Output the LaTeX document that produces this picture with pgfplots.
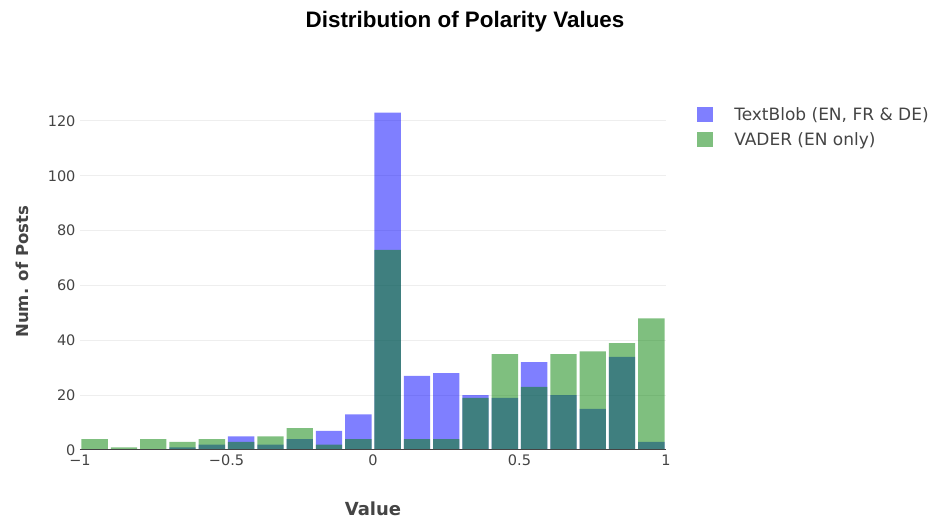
\documentclass[border=0pt]{standalone}
\usepackage{pgfplots}
\pgfplotsset{compat=1.18}
\usepackage{fontspec}
\setmainfont{DejaVu Sans}
\newfontfamily\titlefont{Liberation Sans}
\definecolor{tickgray}{HTML}{444444}
\definecolor{gridgray}{HTML}{EEEEEE}
\definecolor{tbblue}{RGB}{0,0,255}
\definecolor{vgreen}{RGB}{0,128,0}
\begin{document}
\begin{tikzpicture}
\path[use as bounding box] (-80pt,-71pt) rectangle (858pt,450pt);
\begin{axis}[
  at={(0pt,0pt)}, anchor=south west,
  scale only axis, width=586pt, height=356.5pt,
  xmin=-1, xmax=1, ymin=0, ymax=130,
  axis line style={draw=none},
  xtick={-1,-0.5,0,0.5,1},
  xticklabels={−1,−0.5,0,0.5,1},
  ytick={0,20,40,60,80,100,120},
  ymajorgrids, grid style={gridgray, line width=1pt},
  major tick length=0pt,
  tick label style={font=\fontsize{14.5}{17}\selectfont, text=tickgray},
  /pgf/number format/assume math mode=true,
  xticklabel style={yshift=-1pt},
  yticklabel style={xshift=-1pt},
  ybar, bar width=0.09, bar shift=0pt,
  xlabel={\bfseries Value},
  ylabel={\bfseries Num. of Posts},
  label style={text=tickgray},
  x label style={font=\fontsize{18}{21}\selectfont, at={(axis description cs:0.5,-0.166)}, anchor=center},
  y label style={font=\fontsize{16.5}{20}\selectfont, at={(axis description cs:-0.099,0.5)}, anchor=center},
  legend style={at={(axis description cs:1.053,0.968)}, anchor=north west,
    draw=none, fill=none, font=\fontsize{17}{19}\selectfont, text=tickgray,
    row sep=7pt, inner sep=0pt},
  legend cell align=left,
  legend image code/.code={\fill[#1] (0pt,-7.5pt) rectangle (16pt,7.5pt);},
  legend style={nodes={inner xsep=0pt, inner ysep=2pt}},
]
\addplot[draw=none, fill=tbblue, fill opacity=0.5] coordinates {
(-0.95,0) (-0.85,0) (-0.75,0) (-0.65,1) (-0.55,2) (-0.45,5) (-0.35,2) (-0.25,4) (-0.15,7) (-0.05,13)
(0.05,123) (0.15,27) (0.25,28) (0.35,20) (0.45,19) (0.55,32) (0.65,20) (0.75,15) (0.85,34) (0.95,3)};
\addlegendentry{\hspace*{21pt}TextBlob (EN, FR \& DE)}
\addplot[draw=none, fill=vgreen, fill opacity=0.5] coordinates {
(-0.95,4) (-0.85,1) (-0.75,4) (-0.65,3) (-0.55,4) (-0.45,3) (-0.35,5) (-0.25,8) (-0.15,2) (-0.05,4)
(0.05,73) (0.15,4) (0.25,4) (0.35,19) (0.45,35) (0.55,23) (0.65,35) (0.75,36) (0.85,39) (0.95,48)};
\addlegendentry{\hspace*{21pt}VADER (EN only)}
\draw[tickgray, line width=1pt] (axis cs:-1,0) -- (axis cs:1,0);
\end{axis}
\node[font=\titlefont\bfseries\fontsize{22.4}{26}\selectfont, anchor=center] at (385pt,428pt) {Distribution of Polarity Values};
\end{tikzpicture}
\end{document}
